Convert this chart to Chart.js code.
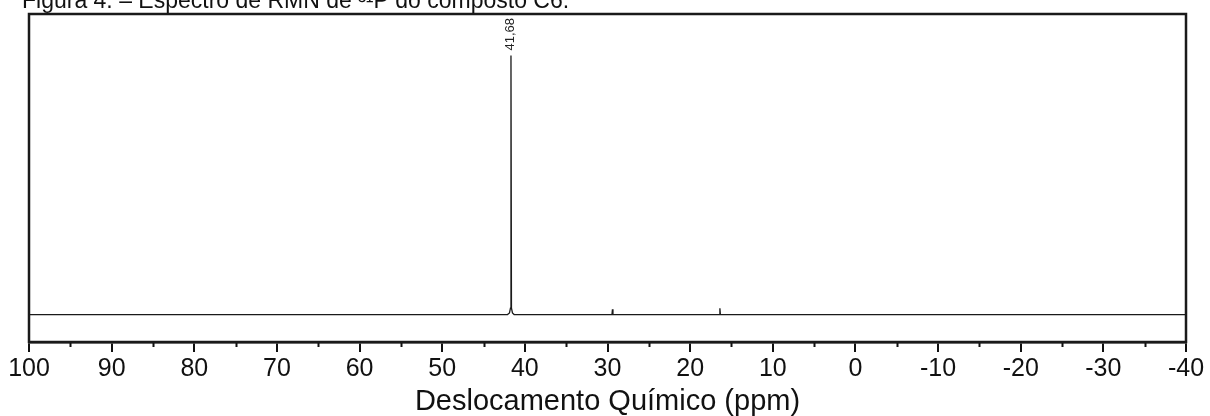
<!DOCTYPE html>
<html>
<head>
<meta charset="utf-8">
<script src="https://cdn.jsdelivr.net/npm/chart.js@4.4.1/dist/chart.umd.min.js"></script>
<style>
  html, body { margin: 0; padding: 0; background: #ffffff; }
  #wrap { width: 1210px; height: 416px; }
</style>
</head>
<body>
<div id="wrap"><canvas id="c" width="1210" height="416"></canvas></div>
<script>
// 31P NMR spectrum: chemical shift (ppm) and relative intensity
const shiftPpm = [100, 42.1, 41.86, 41.74, 41.68, 41.62, 41.50, 41.3, 29.46, 29.40, 29.34, 16.46, 16.40, 16.34, -40];
const intensity = [0, 0, 0.6, 2.5, 100, 2.5, 0.6, 0, 0, 2.0, 0, 0, 2.4, 0, 0];

// labelled peak
const peakPpm = [41.68];
const peakLabels = ['41,68'];

// axis ticks
const xMajorTicks = [100, 90, 80, 70, 60, 50, 40, 30, 20, 10, 0, -10, -20, -30, -40];
const xMinorTicks = [95, 85, 75, 65, 55, 45, 35, 25, 15, 5, -5, -15, -25, -35];

const captionText = 'Figura 4. \u2013 Espectro de RMN de \u00B3\u00B9P do composto C6.';
const axisTitle = 'Deslocamento Qu\u00EDmico (ppm)';

const points = shiftPpm.map((x, i) => ({ x: x, y: intensity[i] }));
const ink = '#111111';

const framePlugin = {
  id: 'frame',
  afterDraw(chart) {
    const { ctx, chartArea: a, scales } = chart;
    const xs = scales.x;
    ctx.save();
    // minor ticks below the bottom axis
    ctx.strokeStyle = ink;
    ctx.lineWidth = 2;
    ctx.beginPath();
    xMinorTicks.forEach(v => {
      const px = Math.round(xs.getPixelForValue(v)) + 0.5;
      ctx.moveTo(px, a.bottom);
      ctx.lineTo(px, a.bottom + 5);
    });
    ctx.stroke();
    // box around the plot
    ctx.lineWidth = 2.5;
    ctx.strokeStyle = '#1a1a1a';
    ctx.strokeRect(a.left, a.top, a.right - a.left, a.bottom - a.top);
    // peak annotation
    ctx.fillStyle = '#222';
    ctx.font = '13px "Liberation Sans", Arial, sans-serif';
    ctx.textAlign = 'left';
    ctx.textBaseline = 'middle';
    peakPpm.forEach((p, i) => {
      const idx = shiftPpm.indexOf(p);
      const px = xs.getPixelForValue(p);
      const py = scales.y.getPixelForValue(intensity[idx]);
      ctx.save();
      ctx.translate(px - 1, py - 5);
      ctx.rotate(-Math.PI / 2);
      ctx.fillText(peakLabels[i], 0, 0);
      ctx.restore();
    });
    // figure caption at the top edge
    ctx.fillStyle = '#111';
    ctx.font = '23px "Liberation Sans", Arial, sans-serif';
    ctx.textAlign = 'left';
    ctx.textBaseline = 'alphabetic';
    ctx.fillText(captionText, 22, 8);
    ctx.restore();
  }
};

new Chart(document.getElementById('c'), {
  type: 'line',
  data: {
    datasets: [{
      data: points,
      borderColor: '#1a1a1a',
      borderWidth: 1.3,
      pointRadius: 0,
      tension: 0,
      fill: false
    }]
  },
  options: {
    responsive: false,
    animation: false,
    layout: { padding: { left: 29, right: 24, top: 14, bottom: 0 } },
    plugins: { legend: { display: false }, tooltip: { enabled: false } },
    scales: {
      x: {
        type: 'linear',
        reverse: true,
        min: -40,
        max: 100,
        afterBuildTicks(scale) {
          scale.ticks = xMajorTicks.map(v => ({ value: v }));
        },
        afterFit(scale) { scale.height = 74; },
        ticks: {
          autoSkip: false,
          maxRotation: 0,
          padding: 2,
          color: '#111',
          font: { family: '"Liberation Sans", Arial, sans-serif', size: 25 },
          callback: v => String(v)
        },
        grid: {
          drawOnChartArea: false,
          drawTicks: true,
          tickLength: 10,
          lineWidth: 2,
          color: ink
        },
        border: { display: true, color: ink, width: 2.5 },
        title: {
          display: true,
          text: axisTitle,
          color: '#111',
          font: { family: '"Liberation Sans", Arial, sans-serif', size: 29, lineHeight: 1.0 },
          padding: { top: 0, bottom: 0 }
        }
      },
      y: {
        display: false,
        min: -10.6,
        max: 116
      }
    }
  },
  plugins: [framePlugin]
});
</script>
</body>
</html>
